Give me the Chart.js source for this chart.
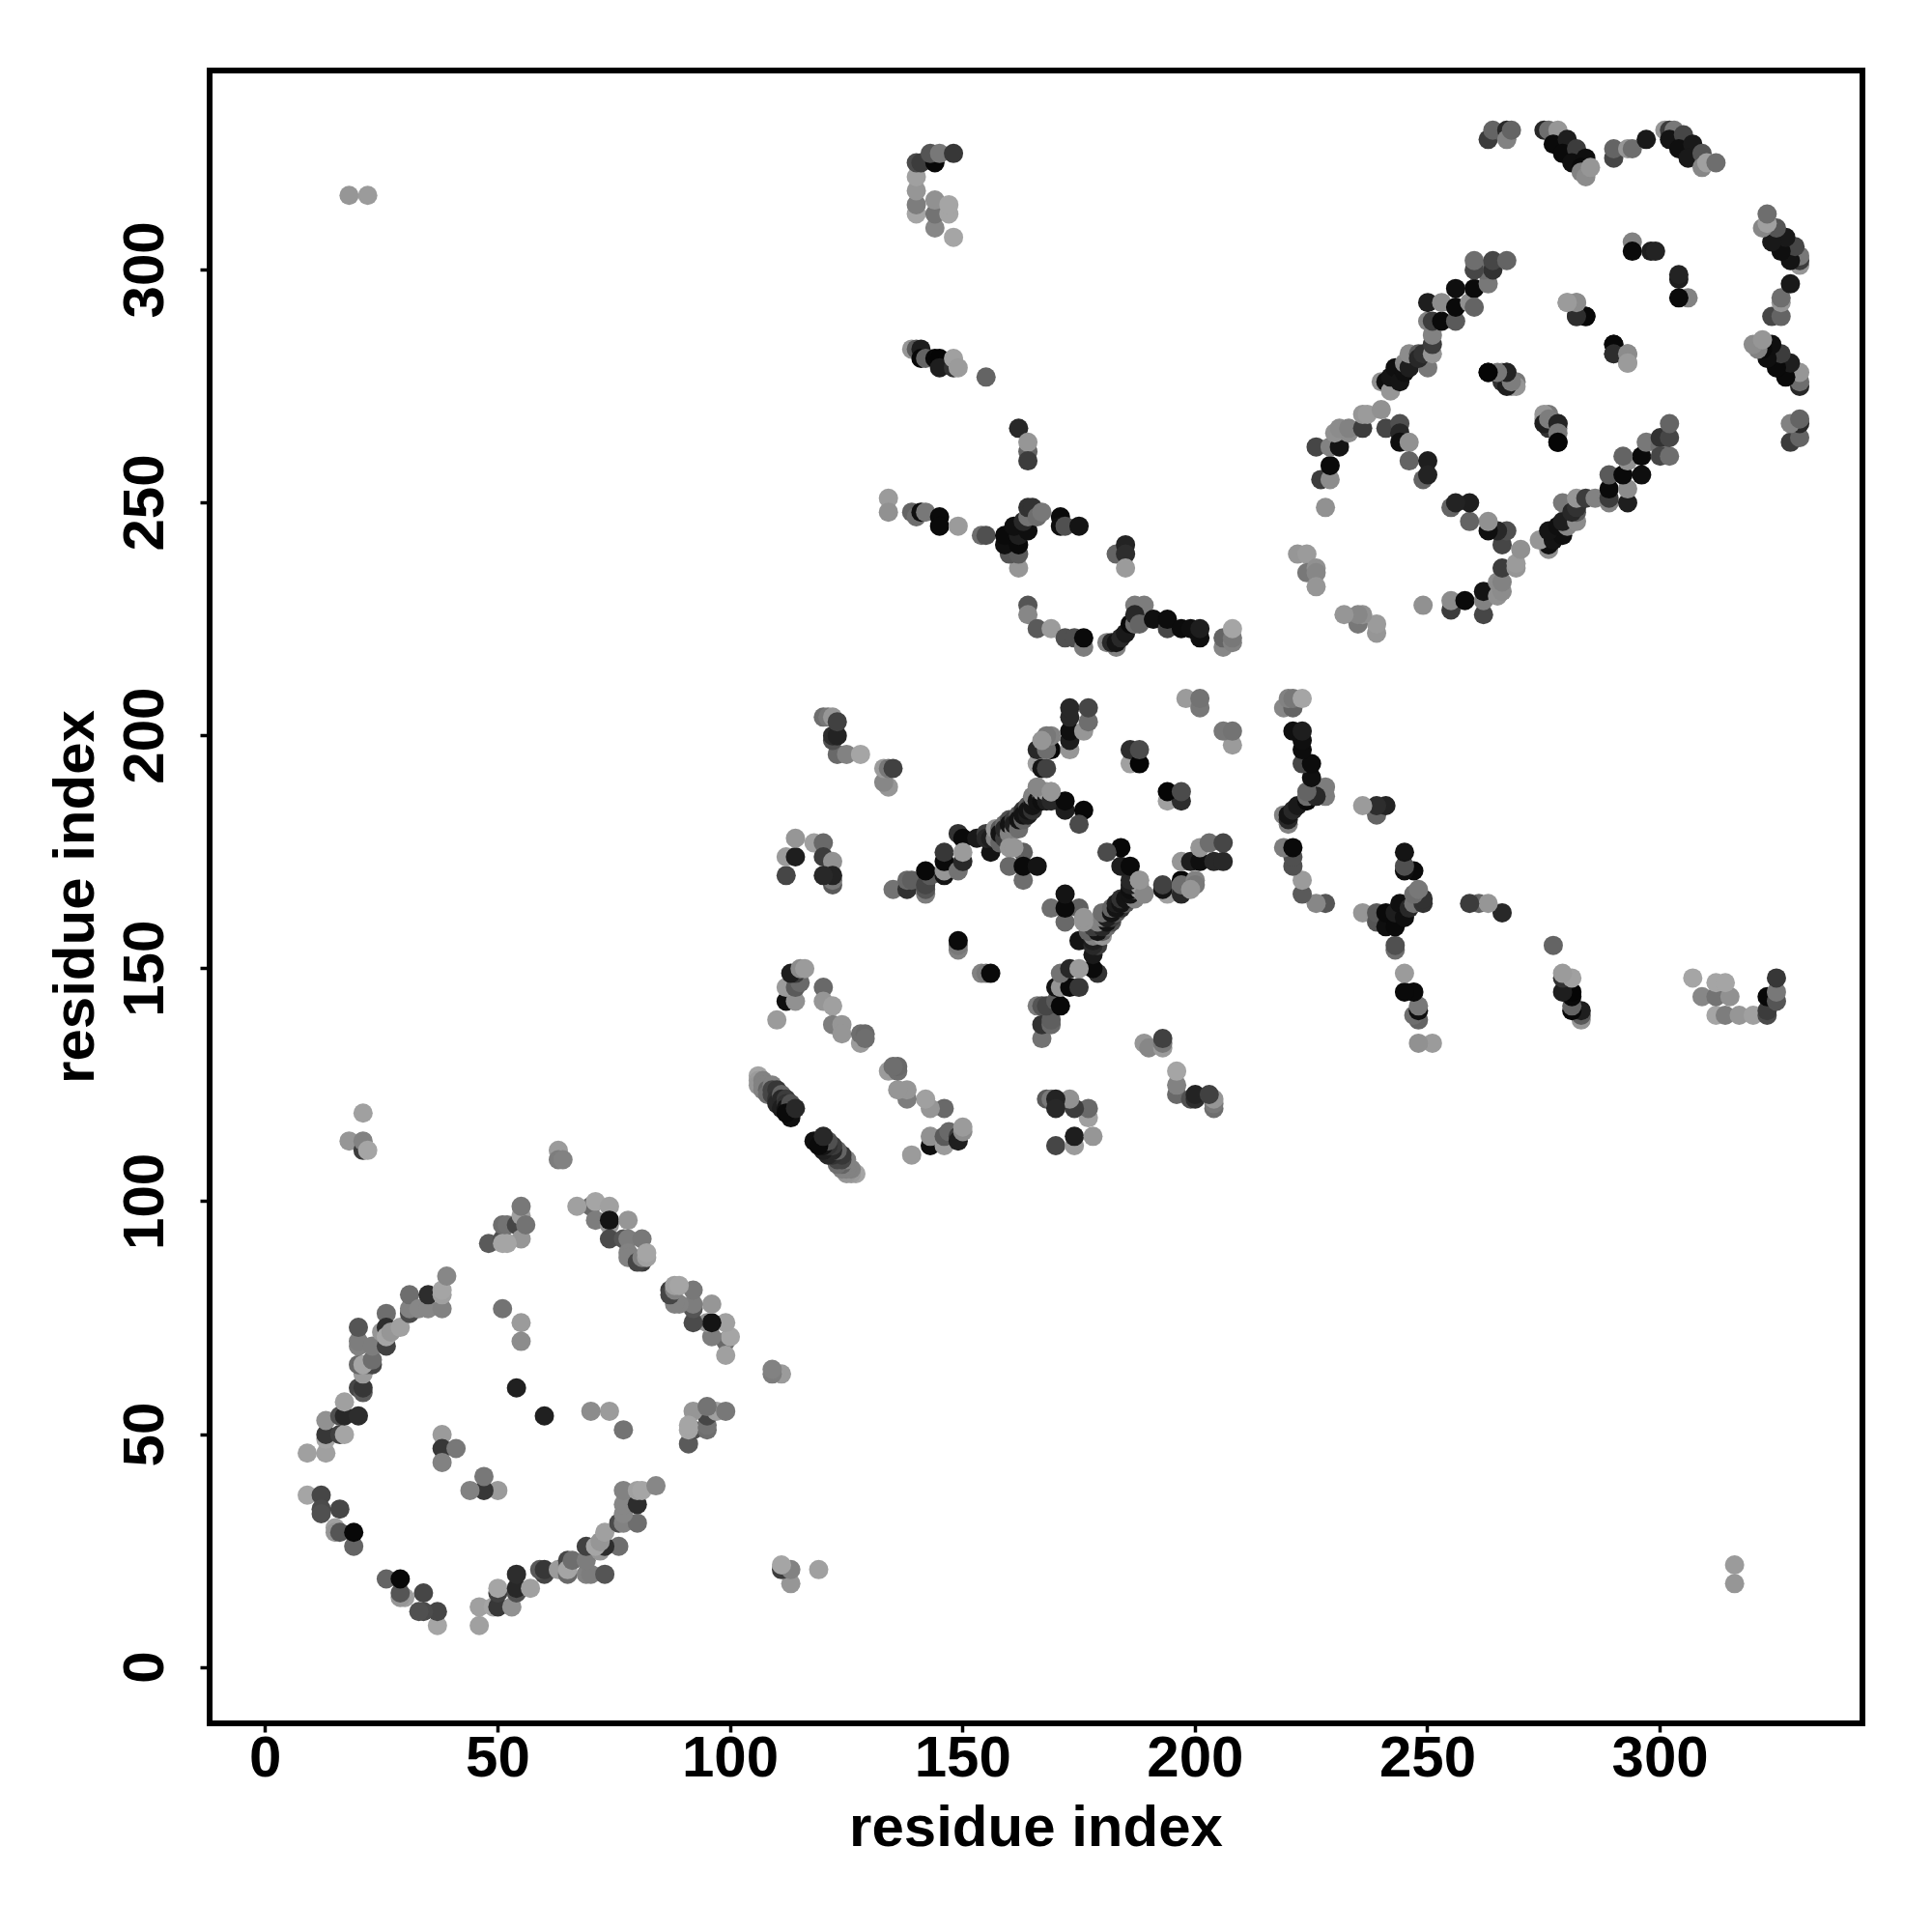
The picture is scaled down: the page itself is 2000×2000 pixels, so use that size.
<!DOCTYPE html>
<html>
<head>
<meta charset="utf-8">
<title>residue contact map</title>
<script src="https://cdn.jsdelivr.net/npm/chart.js@4"></script>
<style>
    html, body { margin: 0; padding: 0; background: #fff; }
    canvas { display: block; }
</style>
</head>
<body>
<canvas id="myChart" width="2000" height="2000"></canvas>
<script>
// every contact is [residue a, residue b, grey level], only a < b is listed, the map is symmetric
const firstDomain = [
    [9,37,165],[9,46,160],[12,37,70],[12,34,75],[12,33,80],[13,46,160],[13,49,165],[13,50,55],[13,53,145],
    [15,30,160],[15,29,150],[16,34,70],[16,29,85],[16,50,65],[16,54,80],[17,50,165],[17,54,40],[17,57,160],
    [19,26,100],[19,29,8],[20,54,45],[20,60,70],[21,59,90],[21,60,55],[21,63,155],[20,65,105],[22,65,115],
    [23,65,70],[21,65,165],[23,66,110],[20,69,130],[20,70,125],[20,73,85],[23,69,125],[26,69,65],[26,76,110],
    [25,72,150],[26,73,45],[26,71,165],[27,72,150],[29,73,160],[31,76,75],[31,77,130],[31,80,110],[33,77,135],
    [35,77,135],[38,77,130],[35,80,45],[38,80,160],[38,81,165],[39,84,135],
    [48,91,90],[51,92,80],[51,95,110],[52,95,115],[54,95,70],[55,92,150],[51,91,165],[52,91,165],[55,97,160],
    [56,95,115],[55,99,120],
    [70,99,105],[67,99,160],[71,100,165],[74,99,160],[71,96,125],[74,95,150],[74,96,20],[78,96,150],[74,92,75],
    [77,92,85],[78,92,125],[81,92,120],[78,89,130],[78,88,130],[81,87,60],[80,87,70],[81,88,130],[82,88,160],[82,89,165],
    [51,77,115],[55,74,155],[55,70,140],[54,60,32],[38,50,155],[38,47,55],[41,47,120],[38,44,130]
];

const farContacts = [
    [21,119,160],[18,113,150],[21,111,60],[21,113,130],[22,111,165],[63,111,155],[63,109,125],[64,109,130],
    [18,316,150],[22,316,155]
];

const helixPairs = [
    [106,127,165],[106,126,155],[106,125,150],[107,126,130],[107,125,130],[108,125,130],[107,124,130],[108,124,100],
    [108,123,110],[109,125,130],[109,124,70],[109,123,70],[110,124,55],[110,122,50],[110,121,40],[111,123,100],
    [111,122,40],[111,120,30],[112,122,60],[112,121,50],[112,120,20],[113,121,80],[113,119,10],[113,118,15],[112,119,10],[114,120,40],
    [110,139,155],[112,143,15],[114,143,145],[112,146,155],[114,146,90],[115,147,105],[114,149,60],[113,149,30],
    [115,150,140],[116,150,155],[120,146,105],[120,143,150],[122,142,160],[122,138,125],[124,138,150],[124,136,150],
    [128,134,155],[128,136,110],[129,136,105],[129,135,110],
    [112,170,70],[112,174,155],[114,174,30],[114,178,150],[118,177,160],[120,177,105],[120,174,60],[122,173,145],
    [122,168,90],[122,169,120],[122,170,35],[120,170,40],
    [123,196,105],[125,196,130],[128,196,165],[122,199,80],[122,200,45],[123,200,35],[120,204,110],[121,204,120],
    [122,204,150],[123,203,65],
    [134,189,150],[133,190,135],[133,193,155],[134,193,120],[135,193,65]
];

const centralBand = [
    [135,167,115],[138,167,50],[138,169,105],[139,169,95],[142,166,125],[142,167,85],[142,168,70],[143,170,90],[142,171,8],
    [146,170,20],[146,171,150],[146,173,10],[146,175,55],[149,171,115],[150,173,40],[149,179,50],[150,178,10],[150,175,155],
    [153,178,25],[156,175,20],[155,179,60],[155,178,40],[156,178,30],[157,178,130],[157,180,150],[158,177,100],[158,180,90],
    [158,179,20],[159,178,60],[159,181,110],[159,180,40],[160,179,130],[160,182,80],[160,181,20],[161,180,130],[161,182,60],
    [161,181,30],[162,180,110],[162,183,90],[162,182,20],[163,182,100],[163,184,50],[163,183,20],[164,183,30],[164,185,90],
    [164,184,20],[165,184,50],[165,186,70],[165,185,20],[165,187,130],[166,187,130],[166,186,20],[167,187,100],[167,186,15],
    [167,188,150],[168,187,120],[168,186,30],[168,188,155],[169,186,40],[169,188,160],[172,184,30],[172,186,10],[176,184,8],[175,181,75],
    [149,154,130],[149,155,120],[149,156,10],
    [160,172,105],[160,176,150],[163,169,110],[163,175,95],[163,172,10],[166,172,20],[161,176,150],
    [166,189,135],[169,188,150],
    [166,194,160],[166,197,40],[167,193,20],[168,193,65],[169,197,8],[168,197,110],[169,200,130],[168,200,120],[167,199,150],
    [173,197,150],[173,199,30],[173,201,15],[173,204,40],[173,206,40],[176,201,150],[177,203,110],[177,206,70],
    [186,194,160],[186,197,45],[188,194,5],[188,197,75],[198,208,155],[201,206,120],[201,208,115]
];

const crossDomain = [
    [140,312,165],[140,314,125],[140,317,150],[140,320,160],[140,323,75],[141,323,60],[144,323,8],[143,325,85],[145,325,120],[148,325,55],
    [148,307,165],[144,309,135],[144,312,115],[144,315,145],[147,312,165],[147,314,165],
    [139,283,150],[140,283,90],[141,283,30],[141,281,8],[142,281,100],[144,281,8],[145,281,5],[145,279,30],[148,279,50],[148,281,160],[149,279,155],[155,277,100],
    [162,266,40],[164,261,100],[164,263,150],[164,259,60],
    [134,251,155],[134,248,145],[139,248,100],[140,247,110],[141,248,15],[142,248,120],[145,247,10],[145,245,10],[149,245,155],
    [154,243,110],[155,243,80],[162,236,150],[160,239,85],[162,239,90],[159,241,15],[162,241,10],[159,243,10],[162,243,30],
    [161,245,15],[164,244,15],[163,246,40],[164,247,115],[164,249,50],[165,249,50],[166,247,110],[167,248,120],
    [171,247,10],[171,245,15],[172,245,80],[175,245,20],[183,239,100],[185,241,35],[185,239,45],[185,236,155],
    [164,228,85],[164,226,135],[166,223,90],[169,223,155],[172,221,80],[174,221,80],[176,219,125],[176,221,10],
    [181,220,130],[183,219,130],[182,220,40],[183,220,20],[184,221,40],[185,222,25],[186,224,10],[187,224,110],[187,228,125],
    [189,228,125],[187,226,40],[188,224,100],[191,225,15],[194,223,70],[194,225,12],[197,223,12],[199,223,15],[201,221,15],[201,223,30],
    [206,219,135],[206,221,100],[208,220,130],[208,221,120],[208,223,165]
];

const thirdDomain = [
    [222,239,150],[224,239,155],[224,235,120],[226,236,145],[226,235,135],[226,232,150],
    [228,249,145],[227,255,60],[229,255,140],[229,258,10],[226,262,70],[229,262,130],[231,262,20],[230,265,145],[233,265,140],
    [231,266,140],[233,266,130],[236,266,60],[236,269,150],[237,269,155],[240,270,145],[241,266,70],[244,267,80],[244,265,40],
    [244,263,15],[246,263,145],[246,259,100],[250,259,30],[249,255,100],[250,256,35],
    [240,276,145],[241,276,15],[242,274,150],[242,277,20],[243,279,15],[244,276,20],[245,278,15],[245,280,135],[246,279,30],
    [246,282,140],[248,282,90],[250,279,120],[248,281,40],[249,282,50],[251,282,150],[251,284,60],[251,286,130],
    [250,289,130],[251,289,60],[253,289,10],[256,289,90],[250,293,30],[253,293,140],[256,292,10],[256,296,15],[259,293,145],
    [260,296,10],[260,292,100],[263,297,120],[262,300,110],[264,300,50],[260,300,70],[260,302,110],[264,302,70],[267,302,100],
    [263,278,8],[266,276,50],[266,278,150],[267,278,40],[268,275,150],[269,276,120],
    [269,275,150],[267,275,30],[268,276,125],[267,278,35],[265,278,120],[263,278,5],
    [280,293,155],[282,293,135],[282,290,50],[284,290,5],
    [284,290,8],[282,290,45],[282,293,140],[280,293,155],
    [294,306,130],[294,304,10],[298,304,30],[299,304,35]
];

const topEdge = [
    [263,328,60],[264,330,100],[267,330,40],[267,328,130],[268,330,100],
    [275,330,40],[276,330,110],[278,330,150],[277,327,10],[280,328,30],[279,325,10],[282,326,60],[281,323,15],
    [284,324,15],[283,322,10],[283,321,130],[284,320,140],[285,322,150],
    [290,324,70],[290,326,100],[293,326,150],[294,326,110],[297,328,25],
    [301,330,150],[302,330,60],[303,330,120],[302,328,20],[305,329,70],[304,326,15],[307,327,25],[306,324,25],
    [309,325,85],[309,322,135],[310,323,160],[312,323,110]
];

const tickValues = [0, 50, 100, 150, 200, 250, 300];
const axisTitle = "residue index";

let contacts = firstDomain.concat(farContacts, helixPairs, centralBand, crossDomain, thirdDomain, topEdge);

let punkty = [];
let kolory = [];
for (var i = 0; i < contacts.length; i++) {
    let a = contacts[i][0];
    let b = contacts[i][1];
    let g = contacts[i][2];
    punkty.push({ x: a, y: b });
    kolory.push("rgb(" + g + "," + g + "," + g + ")");
    punkty.push({ x: b, y: a });
    kolory.push("rgb(" + g + "," + g + "," + g + ")");
}

const fontOsi = { family: "'Liberation Sans'", size: 60, weight: "bold" };

// box round the plot, R style
const ramka = {
    id: "ramka",
    afterDatasetsDraw(chart) {
        const a = chart.chartArea;
        const ctx = chart.ctx;
        ctx.save();
        ctx.strokeStyle = "#000";
        ctx.lineWidth = 6;
        ctx.strokeRect(a.left, a.top, a.right - a.left, a.bottom - a.top);
        ctx.restore();
    }
};

function ustawTicki(scale) {
    scale.ticks = tickValues.map(function (v) { return { value: v }; });
}

const CHART = document.getElementById("myChart");
let wykres = new Chart(CHART, {
    type: "scatter",
    data: {
        datasets: [{
            label: "contacts",
            data: punkty,
            backgroundColor: kolory,
            borderWidth: 0,
            pointRadius: 10,
            pointHoverRadius: 10
        }]
    },
    plugins: [ramka],
    options: {
        responsive: false,
        animation: false,
        layout: { padding: { top: 73, right: 72, left: 0, bottom: 0 } },
        plugins: { legend: { display: false }, tooltip: { enabled: false } },
        scales: {
            x: {
                type: "linear",
                min: -12,
                max: 343.5,
                afterBuildTicks: ustawTicki,
                afterFit(scale) { scale.height = 216; },
                border: { display: false },
                grid: { drawOnChartArea: false, drawTicks: true, tickLength: 9.5, tickWidth: 3.5, color: "#000" },
                ticks: { color: "#000", font: fontOsi, padding: -7, autoSkip: false, maxRotation: 0, minRotation: 0 },
                title: { display: true, text: axisTitle, color: "#000", font: fontOsi, padding: { top: 70, bottom: 70 } }
            },
            y: {
                type: "linear",
                min: -12,
                max: 342.8,
                afterBuildTicks: ustawTicki,
                afterFit(scale) { scale.width = 217; },
                border: { display: false },
                grid: { drawOnChartArea: false, drawTicks: true, tickLength: 9.5, tickWidth: 3.5, color: "#000" },
                ticks: { color: "#000", font: fontOsi, padding: 5, autoSkip: false, maxRotation: 90, minRotation: 90, crossAlign: "center" },
                title: { display: true, text: axisTitle, color: "#000", font: fontOsi, padding: { top: 44, bottom: 44 } }
            }
        }
    }
});
</script>
</body>
</html>
